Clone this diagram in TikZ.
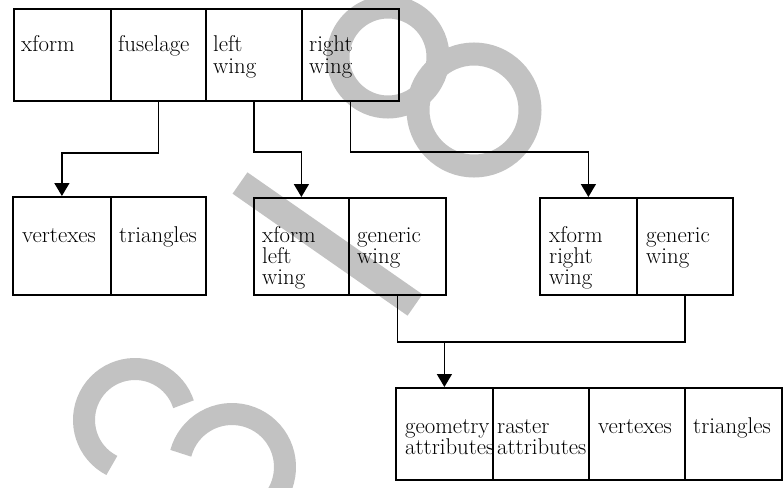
\documentclass[tikz,border=0pt]{standalone}
\usetikzlibrary{arrows.meta,calc}
\begin{document}
\begin{tikzpicture}[x=1pt,y=-1pt,
  cell/.style={draw, line width=1.8pt, inner sep=0pt, anchor=north west},
  txt/.style={inner sep=0pt, anchor=base west, align=left, font=\fontsize{22.8}{21}\selectfont},
  conn/.style={line width=1.5pt},
  arr/.style={conn, -{Triangle[width=15pt,length=13pt]}},
  stamp/.style={draw=black!24, line width=23pt}]
\clip (0,0) rectangle (783,487);

% grey stamp marks of the scan
\begin{scope}[x=1pt,y=1pt]
  \draw[stamp] (388,-57) circle[radius=50pt];
  \draw[stamp] (474,-110) circle[radius=56pt];
  \draw[stamp, line width=26pt] (240,-183) -- (415,-305);
  \draw[stamp, line width=22pt] ($(135,-420)+(243:51pt)$) arc[start angle=243, end angle=18, radius=51pt];
  \draw[stamp, line width=22pt] ($(232,-467)+(165:53pt)$) arc[start angle=165, end angle=-80, radius=53pt];
\end{scope}

% text (the base anchor of a multi-line node is its last line)
\node[txt] (t1) at (21,52) {xform};
\node[txt] (t2) at (118,52) {fuselage};
\node[txt] (t3) at (213,73) {left\\wing};
\node[txt] (t4) at (309,73) {right\\wing};

\node[txt] (t5) at (22,242) {vertexes};
\node[txt] (t6) at (119,242) {triangles};
\node[txt] (t7) at (262,284) {xform\\left\\wing};
\node[txt] (t8) at (357,263) {generic\\wing};
\node[txt] (t9) at (549,284) {xform\\right\\wing};
\node[txt] (t10) at (646,263) {generic\\wing};

\node[txt] (t11) at (405,454) {geometry\\attributes};
\node[txt] (t12) at (497,454) {raster\\attributes};
\node[txt] (t13) at (598,433) {vertexes};
\node[txt] (t14) at (693,433) {triangles};

% top record
\node[cell, minimum width=97pt, minimum height=92pt] (xf) at (13,8) {};
\node[cell, minimum width=95pt, minimum height=92pt] (fu) at (110,8) {};
\node[cell, minimum width=96pt, minimum height=92pt] (lw) at (205,8) {};
\node[cell, minimum width=97pt, minimum height=92pt] (rw) at (301,8) {};

% middle records
\node[cell, minimum width=98pt, minimum height=98pt] (vx) at (12,196) {};
\node[cell, minimum width=95pt, minimum height=98pt] (tr) at (110,196) {};

\node[cell, minimum width=95pt, minimum height=97pt] (xl) at (253,197) {};
\node[cell, minimum width=97pt, minimum height=97pt] (gl) at (348,197) {};

\node[cell, minimum width=97pt, minimum height=97pt] (xr) at (539,197) {};
\node[cell, minimum width=96pt, minimum height=97pt] (gr) at (636,197) {};

% bottom record
\node[cell, minimum width=97pt, minimum height=92pt] (ga) at (395,387) {};
\node[cell, minimum width=96pt, minimum height=92pt] (ra) at (492,387) {};
\node[cell, minimum width=96pt, minimum height=92pt] (bv) at (588,387) {};
\node[cell, minimum width=97pt, minimum height=92pt] (bt) at (684,387) {};

% connectors
\draw[arr] (fu.south) -- ++(0,51) -| (vx.north);
\draw[arr] (lw.south) -- ++(0,50) -| (xl.north);
\draw[arr] (rw.south) -- ++(0,50) -| (xr.north);

\coordinate (j) at (ga.north |- 0,342);
\draw[conn] (gl.south) -- (gl.south |- j) -- (gr.south |- j) -- (gr.south);
\draw[arr] (j) -- (ga.north);
\end{tikzpicture}
\end{document}
